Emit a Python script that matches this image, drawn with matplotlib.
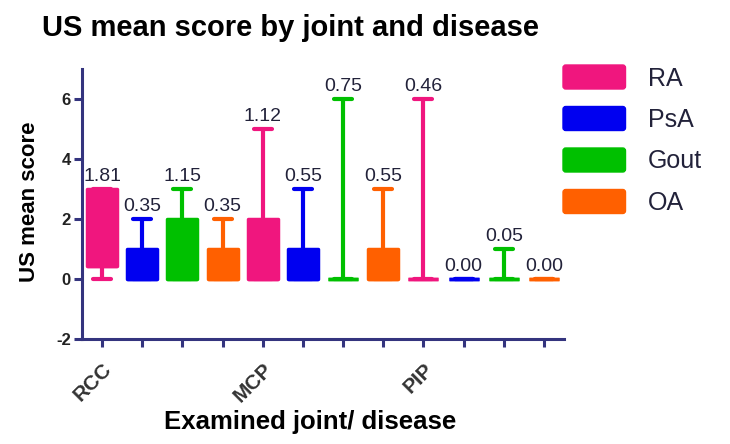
import matplotlib
matplotlib.use("Agg")
import matplotlib.pyplot as plt
from matplotlib.patches import Patch, FancyBboxPatch
from matplotlib.legend_handler import HandlerPatch

plt.rcParams['font.family'] = ['Liberation Sans', 'DejaVu Sans']
plt.rcParams['axes.unicode_minus'] = False

# groups: joint x disease
joints = ["RCC", "MCP", "PIP"]
diseases = ["RA", "PsA", "Gout", "OA"]
colors = ["#f0167e", "#0000f0", "#00c000", "#ff6000"]

# box stats (RCC RA, PsA, Gout, OA, MCP ..., PIP ...)
whis_lo = [0, 0, 0, 0,   0, 0, 0, 0,   0, 0, 0, 0]
q1      = [0.43, 0, 0, 0, 0, 0, 0, 0,  0, 0, 0, 0]
q3      = [3, 1, 2, 1,   2, 1, 0, 1,   0, 0, 0, 0]
whis_hi = [3, 2, 3, 2,   5, 3, 6, 3,   6, 0, 1, 0]
means   = [1.81, 0.35, 1.15, 0.35, 1.12, 0.55, 0.75, 0.55, 0.46, 0.00, 0.05, 0.00]

navy = "#34347e"
txt = "#22223a"

fig = plt.figure(figsize=(7.3, 4.44), dpi=100)
ax = fig.add_axes([82/730, 1-339/444, 482/730, 270/444])

stats = []
for i in range(len(means)):
    stats.append(dict(med=q1[i], q1=q1[i], q3=q3[i], whislo=whis_lo[i],
                      whishi=whis_hi[i], fliers=[]))
positions = list(range(1, len(means) + 1))
bp = ax.bxp(stats, positions=positions, widths=0.75, capwidths=0.45,
            patch_artist=True, showfliers=False)

for i in range(len(means)):
    c = colors[i % 4]
    bp['boxes'][i].set(facecolor=c, edgecolor=c, linewidth=2.5, joinstyle='round')
    bp['medians'][i].set(color=c, linewidth=2.5)
    for ln in bp['whiskers'][2*i:2*i+2] + bp['caps'][2*i:2*i+2]:
        ln.set(color=c, linewidth=3, solid_capstyle='round')
    ax.annotate("%.2f" % means[i], (positions[i], whis_hi[i]), xytext=(0, 3),
                textcoords='offset points', ha='center', va='bottom',
                fontsize=14, color=txt)

ax.set_xlim(0.5, 12.5)
ax.set_ylim(-2, 7)
ax.set_yticks([-2, 0, 2, 4, 6])
ax.set_xticks(positions)
xlabels = [""] * len(positions)
for j, name in enumerate(joints):
    xlabels[j * 4] = name
ax.set_xticklabels(xlabels, rotation=45, ha='right', rotation_mode='anchor',
                   fontsize=15, fontweight='bold', color="#333333")
for lab in ax.get_yticklabels():
    lab.set_fontsize(12)
    lab.set_fontweight('bold')
    lab.set_color("#222222")

for s in ['top', 'right']:
    ax.spines[s].set_visible(False)
for s in ['left', 'bottom']:
    ax.spines[s].set_color(navy)
    ax.spines[s].set_linewidth(2.2)
ax.tick_params(axis='both', direction='out', length=6, width=2.2, color=navy, pad=2)
ax.tick_params(axis='x', pad=9)

ax.set_ylabel("US mean score", fontsize=16, fontweight='bold')
ax.yaxis.set_label_coords(-0.088, 0.507)
ax.set_xlabel("Examined joint/ disease", fontsize=18.5, fontweight='bold')
ax.xaxis.set_label_coords(0.473, -0.262)

fig.text(42/730, 1-36/444, "US mean score by joint and disease", fontsize=21,
         fontweight='bold', va='baseline', ha='left')


def rounded(legend, orig_handle, xdescent, ydescent, width, height, fontsize):
    return FancyBboxPatch((-xdescent, -ydescent), width, height,
                          boxstyle="round,pad=0,rounding_size=2")


handles = [Patch(facecolor=c, edgecolor=c) for c in colors]
leg = fig.legend(handles, diseases, loc='upper left',
                 bbox_to_anchor=(563/730, 1-65/444), frameon=False,
                 fontsize=18, handlelength=2.5, handleheight=1.1,
                 handletextpad=0.9, labelspacing=0.64, borderpad=0,
                 borderaxespad=0,
                 handler_map={Patch: HandlerPatch(patch_func=rounded)})
for t in leg.get_texts():
    t.set_color(txt)

fig.savefig("out.png", dpi=100)
